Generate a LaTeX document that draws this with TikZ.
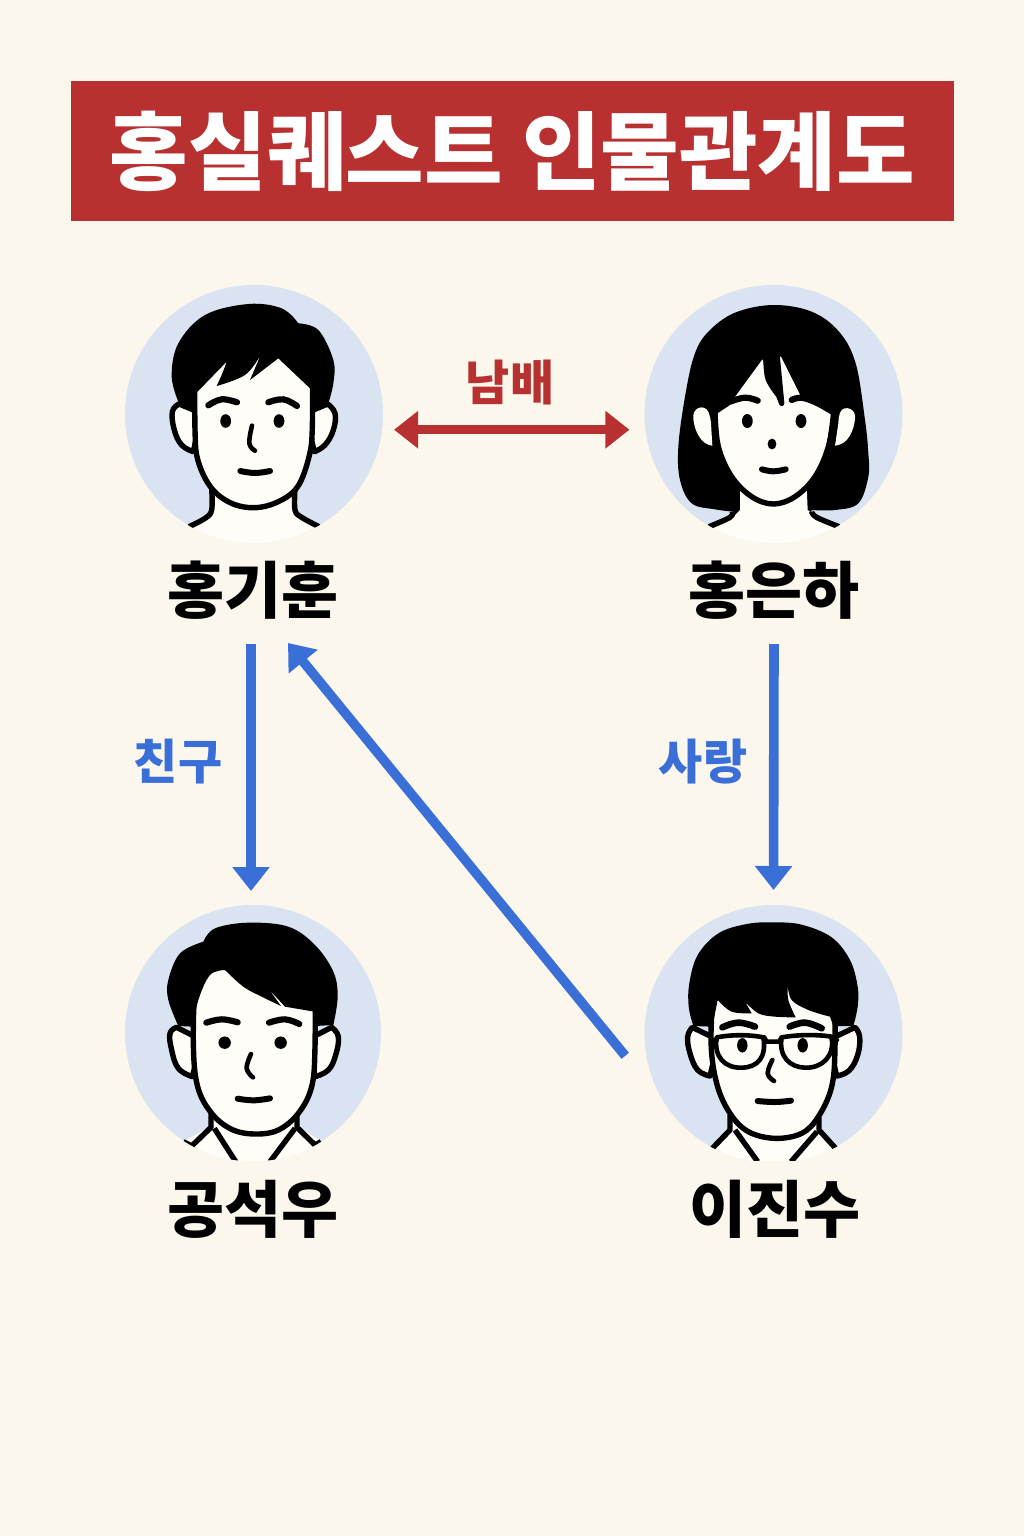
\documentclass[tikz,border=0pt]{standalone}
\usepackage{fontspec}
\setmainfont{Noto Sans CJK KR}[BoldFont=Noto Sans CJK KR Black]
\usetikzlibrary{arrows.meta,calc}
\definecolor{bgc}{HTML}{FBF7EC}
\definecolor{redc}{HTML}{B83030}
\definecolor{bluec}{HTML}{3A6FD8}
\definecolor{circ}{HTML}{D9E3F1}
\definecolor{skin}{HTML}{FFFDF8}
\tikzset{
  portrait/.style={circle,fill=circ,minimum size=129pt,inner sep=0pt,outer sep=0pt},
  nametext/.style={font=\fontsize{31}{31}\selectfont\bfseries,inner sep=0pt,outer sep=0pt,minimum height=54pt,text=black},
  redlabel/.style={font=\fontsize{24}{24}\selectfont\bfseries,inner sep=0pt,text=redc},
  bluelabel/.style={font=\fontsize{24}{24}\selectfont\bfseries,inner sep=0pt,text=bluec},
  redarrow/.style={draw=redc,line width=4.4pt,{Triangle[width=18pt,length=12pt]}-{Triangle[width=18pt,length=12pt]}},
  bluearrow/.style={draw=bluec,line width=4.8pt,-{Triangle[width=18pt,length=12pt]}},
  ink/.style={draw=black,line width=2.7pt,line cap=round,line join=round},
  fine/.style={draw=black,line width=2.3pt,line cap=round,line join=round},
  browline/.style={draw=black,line width=3.1pt,line cap=round},
  mouthline/.style={draw=black,line width=3pt,line cap=round},
  zoomed/.style={x=0.16667pt,y=-0.16667pt},
}
\begin{document}
\begin{tikzpicture}[x=0.5pt,y=-0.5pt]
\useasboundingbox (0,0) rectangle (1024,1536);
\fill[bgc] (0,0) rectangle (1024,1536);
\node[fill=redc,minimum width=441.5pt,minimum height=70pt,inner sep=0pt,outer sep=0pt,text=white,font=\fontsize{42.7}{43}\selectfont\bfseries] (title) at (512.5,151) {\raisebox{-1.2pt}{홍실퀘스트 인물관계도}};

\node[portrait] (p1) at (254,414) {};
\node[portrait] (p2) at (773.5,414) {};
\node[portrait,minimum size=128pt] (p3) at (253,1033) {};
\node[portrait] (p4) at (773.5,1034) {};

% --- portrait 1
\begin{scope}[shift={(115,280)},zoomed]
\begin{scope}
\clip (416,403) circle[radius=64.4pt];
\fill[skin] (290,620) -- (290,690) -- (270,715) -- (225,738) -- (225,850) -- (610,850) -- (610,738) -- (555,710) -- (540,690) -- (540,620) -- cycle;
\draw[ink,line cap=butt] plot[smooth,tension=.6] coordinates {(290,625) (290,690) (270,715) (222,740)};
\draw[ink,line cap=butt] plot[smooth,tension=.6] coordinates {(540,625) (540,690) (560,712) (612,740)};
\end{scope}
\filldraw[fill=skin,ink] plot[smooth,tension=.7] coordinates {(192,372) (172,395) (178,450) (200,495) (235,515)} -- (260,400) -- cycle;
\filldraw[fill=skin,ink] plot[smooth,tension=.7] coordinates {(638,372) (660,400) (655,450) (630,495) (598,515)} -- (570,400) -- cycle;
\filldraw[fill=skin,ink] plot[smooth,tension=.6] coordinates {(240,200) (240,450) (250,545) (290,625) (350,670) (420,683) (490,665) (548,620) (582,530) (592,440) (592,200)} -- cycle;
\fill[black] plot[smooth,tension=.6] coordinates {(192,370) (170,290) (190,190) (270,105) (400,72) (500,85) (550,130)} -- plot[smooth,tension=.6] coordinates {(550,130) (610,150) (655,240) (655,310) (640,370)} -- (592,385) -- (585,325) -- (490,235) -- (405,300) -- (437,225) -- plot[smooth,tension=.6] coordinates {(437,225) (390,285) (305,318)} -- plot[smooth,tension=.6] coordinates {(305,318) (322,280) (335,245)} -- (238,345) -- (238,385) -- cycle;
\draw[browline] plot[smooth,tension=.7] coordinates {(280,376) (320,358) (366,367)};
\draw[browline] plot[smooth,tension=.7] coordinates {(460,367) (505,358) (546,378)};
\fill (332,423) ellipse[x radius=2.7pt,y radius=3.4pt];
\fill (492,423) ellipse[x radius=2.7pt,y radius=3.4pt];
\draw[fine] plot[smooth,tension=.7] coordinates {(411,437) (403,490) (420,512)};
\draw[mouthline] plot[smooth,tension=.7] coordinates {(376,573) (420,579) (465,573)};
\end{scope}

% --- portrait 2
\begin{scope}[shift={(635,280)},zoomed]
\fill[black] plot[smooth,tension=.6] coordinates {(295,695) (240,688) (170,670) (135,600) (130,500) (150,350) (178,225) (220,155) (300,98) (415,75) (530,95) (612,155) (662,250) (690,420) (700,520) (700,590) (670,670) (600,690) (530,690)} -- (520,750) -- (310,750) -- cycle;
\begin{scope}
\clip (416,403) circle[radius=64.4pt];
\fill[skin] (315,620) -- (315,690) -- (290,715) -- (225,738) -- (225,850) -- (610,850) -- (610,738) -- (545,710) -- (518,690) -- (515,620) -- cycle;
\draw[ink,line cap=butt] plot[smooth,tension=.6] coordinates {(292,695) (285,712) (222,740)};
\draw[ink,line cap=butt] plot[smooth,tension=.6] coordinates {(530,695) (545,712) (612,740)};
\end{scope}
\fill[skin] plot[smooth,tension=.8] coordinates {(232,497) (200,480) (177,430) (182,390) (215,388) (228,430)} -- cycle;
\fill[skin] plot[smooth,tension=.8] coordinates {(600,497) (635,480) (658,430) (653,392) (620,390) (610,430)} -- cycle;
\filldraw[fill=skin,ink] (240,395) -- (278,370) -- (290,350) -- (385,220) -- (440,370) -- (425,215) -- (445,225) -- (505,345) -- (590,395) -- plot[smooth,tension=.6] coordinates {(596,397) (580,500) (540,590) (480,650) (415,672) (350,650) (290,590) (250,500) (240,395)};
\fill[black] plot[smooth,tension=.6] coordinates {(385,220) (392,300) (438,368)} -- plot[smooth,tension=.6] coordinates {(438,368) (425,290) (422,215)} -- cycle;
\draw[browline] plot[smooth,tension=.7] coordinates {(285,365) (330,353) (368,362)};
\draw[browline] plot[smooth,tension=.7] coordinates {(470,360) (510,355) (590,390)};
\fill (337,423) ellipse[x radius=2.7pt,y radius=3.5pt];
\fill (498,423) ellipse[x radius=2.7pt,y radius=3.5pt];
\fill (411,492) ellipse[x radius=2.2pt,y radius=2.7pt];
\draw[mouthline] plot[smooth,tension=.7] coordinates {(381,568) (415,574) (452,568)};
\end{scope}

% --- portrait 3
\begin{scope}[shift={(115,900)},zoomed]
\begin{scope}
\clip (414,400) circle[radius=64pt];
\fill[skin] (290,630) -- (285,680) -- (205,725) -- (205,850) -- (620,850) -- (620,725) -- (550,680) -- (545,630) -- cycle;
\draw[ink,line cap=butt] (288,640) -- (288,682) -- (230,738) -- (205,725);
\draw[ink,line cap=butt] (546,640) -- (546,682) -- (600,735) -- (618,725);
\draw[ink,line cap=butt] (298,685) -- (362,785);
\draw[ink,line cap=butt] (540,685) -- (465,785);
\end{scope}
\fill[bgc] (300,782) rectangle (540,800);
\filldraw[fill=skin,ink] plot[smooth,tension=.7] coordinates {(185,382) (165,400) (170,450) (190,505) (232,530)} -- (260,420) -- cycle;
\filldraw[fill=skin,ink] plot[smooth,tension=.7] coordinates {(650,382) (670,410) (662,465) (640,510) (600,530)} -- (575,420) -- cycle;
\filldraw[fill=skin,ink] plot[smooth,tension=.6] coordinates {(240,190) (235,430) (248,560) (290,640) (350,688) (420,702) (490,690) (550,640) (590,560) (600,440) (600,190)} -- cycle;
\fill[black] plot[smooth,tension=.6] coordinates {(190,378) (160,300) (160,240) (195,160) (265,125)} -- plot[smooth,tension=.6] coordinates {(265,125) (300,85) (400,68) (520,80) (600,135) (655,215) (668,290) (655,375)} -- (600,378) -- (598,335) -- (510,320) -- (462,268) -- plot[smooth,tension=.6] coordinates {(498,318) (440,290) (385,260) (330,210)} -- plot[smooth,tension=.6] coordinates {(330,210) (285,225) (250,300) (235,380)} -- cycle;
\draw[browline] plot[smooth,tension=.7] coordinates {(274,368) (320,358) (368,367)};
\draw[browline] plot[smooth,tension=.7] coordinates {(462,368) (510,358) (553,372)};
\fill (329,428) circle[radius=3.1pt];
\fill (497,428) circle[radius=3.1pt];
\draw[fine] plot[smooth,tension=.7] coordinates {(408,462) (395,505) (414,532)};
\draw[mouthline] plot[smooth,tension=.7] coordinates {(368,596) (415,601) (465,595)};
\end{scope}

% --- portrait 4
\begin{scope}[shift={(635,900)},zoomed]
\begin{scope}
\clip (416,403) circle[radius=64.4pt];
\fill[skin] (285,630) -- (285,690) -- (225,740) -- (225,850) -- (610,850) -- (610,740) -- (552,690) -- (552,630) -- cycle;
\draw[ink,line cap=butt] (285,645) -- (285,690) -- (232,745);
\draw[ink,line cap=butt] (552,650) -- (552,690) -- (602,745);
\draw[ink,line cap=butt] (300,690) -- (368,785);
\draw[ink,line cap=butt] (546,695) -- (468,785);
\end{scope}
\fill[bgc] (300,782) rectangle (540,800);
\filldraw[fill=skin,ink] plot[smooth,tension=.7] coordinates {(172,382) (158,410) (165,460) (188,510) (225,528)} -- (250,420) -- cycle;
\filldraw[fill=skin,ink] plot[smooth,tension=.7] coordinates {(660,382) (674,410) (668,465) (642,512) (605,528)} -- (580,420) -- cycle;
\filldraw[fill=skin,ink] plot[smooth,tension=.6] coordinates {(238,220) (228,420) (245,550) (285,640) (340,695) (420,715) (500,700) (550,650) (590,560) (600,440) (598,220)} -- cycle;
\fill[black] plot[smooth,tension=.6] coordinates {(175,378) (161,320) (163,250) (188,165) (250,100) (335,72) (415,67) (500,74) (590,112) (645,180) (668,260) (668,320) (655,378)} -- (595,378) -- (585,350) -- plot[smooth,tension=.6] coordinates {(585,350) (520,330) (470,300) (458,255)} -- plot[smooth,tension=.6] coordinates {(458,255) (460,300) (482,352)} -- plot[smooth,tension=.6] coordinates {(482,352) (420,350) (370,340) (330,305)} -- (350,340) -- plot[smooth,tension=.6] coordinates {(350,340) (290,335) (248,300)} -- (232,380) -- cycle;
\draw[browline,line width=3.3pt] plot[smooth,tension=.7] coordinates {(262,382) (310,368) (360,380)};
\draw[browline,line width=3.3pt] plot[smooth,tension=.7] coordinates {(464,380) (510,368) (560,385)};
\draw[fine] (245,412) .. controls (300,402) and (350,405) .. (385,412) .. controls (395,470) and (370,502) .. (320,503) .. controls (270,505) and (235,470) .. (245,412) -- cycle;
\draw[fine] (440,412) .. controls (480,405) and (540,402) .. (590,410) .. controls (600,470) and (560,505) .. (510,503) .. controls (465,502) and (430,470) .. (440,412) -- cycle;
\draw[fine] (388,412) -- (394,425) -- (432,425) -- (440,412);
\draw[fine] (230,420) -- (245,420);
\draw[fine] (590,420) -- (606,420);
\fill (322,436) ellipse[x radius=2.6pt,y radius=3.6pt];
\fill (503,436) ellipse[x radius=2.6pt,y radius=3.6pt];
\draw[fine] plot[smooth,tension=.7] coordinates {(412,480) (398,520) (417,543)};
\draw[mouthline] plot[smooth,tension=.7] coordinates {(368,603) (420,606) (468,602)};
\end{scope}

% --- names
\node[nametext] (n1) at (253,590) {홍기훈};
\node[nametext] (n2) at (774,590) {홍은하};
\node[nametext] (n3) at (253,1209) {공석우};
\node[nametext] (n4) at (775,1209) {이진수};

% --- connectors
\draw[redarrow,shorten <=6pt,shorten >=8pt] (p1.-7) -- (p2.187);
\node[redlabel] (l1) at (510,382) {남배};
\draw[bluearrow,shorten >=7pt] ([xshift=-1pt]n1.south) -- ([xshift=-1pt]p3.north);
\node[bluelabel] (l2) at (178,762) {친구};
\draw[bluearrow,shorten >=7.5pt] (n2.south) -- (p4.north);
\node[bluelabel] (l3) at (703,762) {사랑};
\draw[bluearrow,shorten <=33.7pt] (p4.215.7) -- ($(n1.south)+(35,-1)$);
\end{tikzpicture}
\end{document}
